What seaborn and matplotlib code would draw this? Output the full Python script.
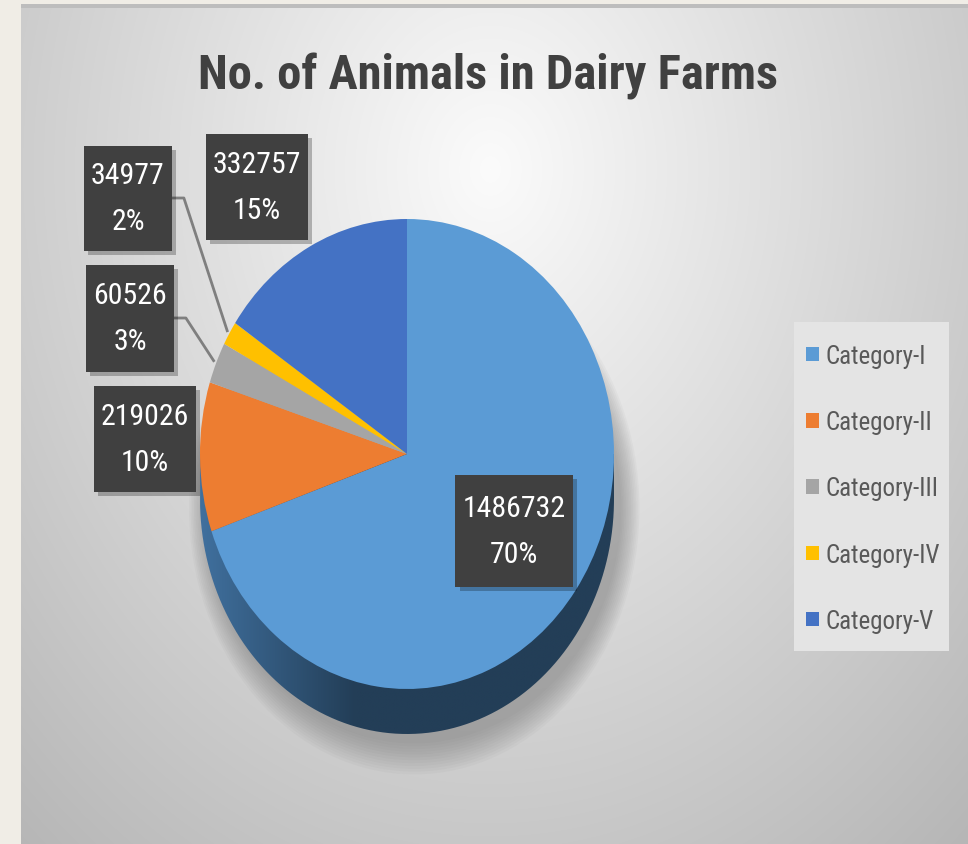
import numpy as np
import matplotlib
matplotlib.use("Agg")
import matplotlib.pyplot as plt
import seaborn as sns
from matplotlib import font_manager as fm
from matplotlib.patches import Ellipse, Rectangle, PathPatch
from matplotlib.path import Path
import matplotlib.patheffects as pe

# ---------------- data ----------------
categories = ["Category-I", "Category-II", "Category-III", "Category-IV", "Category-V"]
animals = [1486732, 219026, 60526, 34977, 332757]
pct_labels = ["70%", "10%", "3%", "2%", "15%"]
colors = ["#5B9BD5", "#ED7D31", "#A5A5A5", "#FFC000", "#4472C4"]
title = "No. of Animals in Dairy Farms"

# ---------------- style ----------------
sns.set_theme(style="white")
avail = {f.name for f in fm.fontManager.ttflist}
FONT = "Liberation Sans"
for cand in ["Roboto Condensed", "Liberation Sans Narrow", "Open Sans Condensed"]:
    if cand in avail:
        FONT = cand
        break
NARROW = FONT != "Liberation Sans"
plt.rcParams["font.family"] = [FONT, "DejaVu Sans"]
fs_scale = 1.0 if NARROW else 0.82

W, H = 968, 845
fig = plt.figure(figsize=(W / 100, H / 100), dpi=100, facecolor="#F0EDE6")

# background axes in pixel coordinates
ax_bg = fig.add_axes([0, 0, 1, 1])
ax_bg.set_xlim(0, W)
ax_bg.set_ylim(H, 0)
ax_bg.axis("off")

X0, Y0 = 21, 5
xx, yy = np.meshgrid(np.arange(X0, W), np.arange(Y0, H))
d = np.sqrt(((xx - 490) / 540.0) ** 2 + ((yy - 170) / 680.0) ** 2)
v = np.clip((251 - 52 * d) / 255.0, 0, 1)
img = np.dstack([v, v, v])
ax_bg.imshow(img, extent=[X0, W, H, Y0], aspect="auto", zorder=0, interpolation="bilinear")
ax_bg.add_patch(Rectangle((X0, Y0), W - X0, 4, color="#BDBDBD", lw=0, zorder=1))

# title
ax_bg.text(488, 76, title, ha="center", va="center", fontsize=35 * fs_scale,
           fontweight="bold", color="#404040", zorder=5)

# legend panel
ax_bg.add_patch(Rectangle((794, 323), 155, 329, facecolor="#E4E4E4", edgecolor="none", zorder=1))

# ---------------- pie axes ----------------
CX, CY, RX, RY, DEPTH = 407, 455, 207, 235, 45
ax_pie = fig.add_axes([0, 0, 1, 1])
ax_pie.patch.set_alpha(0)

wedges, _ = ax_pie.pie(animals, colors=colors, startangle=90, counterclock=False,
                       radius=1, center=(0, 0), wedgeprops=dict(linewidth=0, zorder=3))
ax_pie.set_aspect("auto")
ax_pie.axis("off")

dd = DEPTH / RY
# soft shadow
for i in range(12):
    ax_pie.add_patch(Ellipse((0.035, -dd - 0.04), 2.0 + 0.016 * i, 2.0 + 0.024 * i,
                             color="#666666", alpha=0.045, lw=0, zorder=1))
# side of the cylinder
t = np.linspace(np.pi, 2 * np.pi, 200)
verts = [(-1, 0)] + [(np.cos(a), np.sin(a) - dd) for a in t] + [(1, 0), (-1, 0)]
side = PathPatch(Path(verts), facecolor="none", edgecolor="none", zorder=2)
ax_pie.add_patch(side)
gx = np.linspace(-1, 1, 300)
c1 = np.array([0x40, 0x70, 0x9E]) / 255.0
c2 = np.array([0x23, 0x3E, 0x57]) / 255.0
f = np.clip((gx + 1) / 0.75, 0, 1)[None, :, None]
grad = np.repeat(c1 * (1 - f) + c2 * f, 10, axis=0)
im = ax_pie.imshow(grad, extent=[-1, 1, -1 - dd, 0], aspect="auto", zorder=2,
                   interpolation="bilinear")
im.set_clip_path(side)
ax_pie.set_xlim(-CX / RX, (W - CX) / RX)
ax_pie.set_ylim(-(H - CY) / RY, CY / RY)

# ---------------- overlay axes for labels ----------------
ax_top = fig.add_axes([0, 0, 1, 1])
ax_top.patch.set_alpha(0)
ax_top.set_xlim(0, W)
ax_top.set_ylim(H, 0)
ax_top.axis("off")

box_centers = [(514, 532), (145, 440), (130, 319), (128, 199), (257, 188)]
box_heights = [112, 106, 107, 105, 106]
PAD_X = 7
total = float(sum(animals))
cum = np.cumsum([0] + animals[:-1])
fig.canvas.draw()
renderer = fig.canvas.get_renderer()
inv = ax_top.transData.inverted()
for i, (val, pct) in enumerate(zip(animals, pct_labels)):
    bx, by = box_centers[i]
    bh = box_heights[i]
    txt = ax_top.text(bx, by, f"{val}\n{pct}", ha="center", va="center",
                      fontsize=21.5 * fs_scale, color="white", linespacing=1.85, zorder=6)
    ext = txt.get_window_extent(renderer)
    (x0, _), (x1, _) = inv.transform([(ext.x0, ext.y0), (ext.x1, ext.y1)])
    bw = (x1 - x0) + 2 * PAD_X
    rect = Rectangle((bx - bw / 2, by - bh / 2), bw, bh, facecolor="#404040",
                     edgecolor="none", zorder=5)
    rect.set_path_effects([pe.SimplePatchShadow(offset=(3, -3), shadow_rgbFace="#000000",
                                                alpha=0.25), pe.Normal()])
    ax_top.add_patch(rect)
    if i in (2, 3):
        theta = 2 * np.pi * (cum[i] + val / 2.0) / total
        p = ax_pie.transData.transform((np.sin(theta) * 1.01, np.cos(theta) * 1.01))
        ex, ey = inv.transform(p)
        xr = bx + bw / 2
        ax_top.plot([xr, xr + 12, ex], [by, by, ey], color="#7F7F7F", lw=2, zorder=4,
                    solid_capstyle="butt")

# ---------------- legend ----------------
leg = fig.legend(wedges, categories, loc="upper left",
                 bbox_to_anchor=(806 / W, 1 - 345 / H), frameon=False,
                 fontsize=18 * fs_scale, labelspacing=1.69, handlelength=0.52,
                 handleheight=0.52, handletextpad=0.25, borderpad=0, borderaxespad=0)
for tx in leg.get_texts():
    tx.set_color("#595959")

fig.savefig("out.png", dpi=100, facecolor=fig.get_facecolor())
